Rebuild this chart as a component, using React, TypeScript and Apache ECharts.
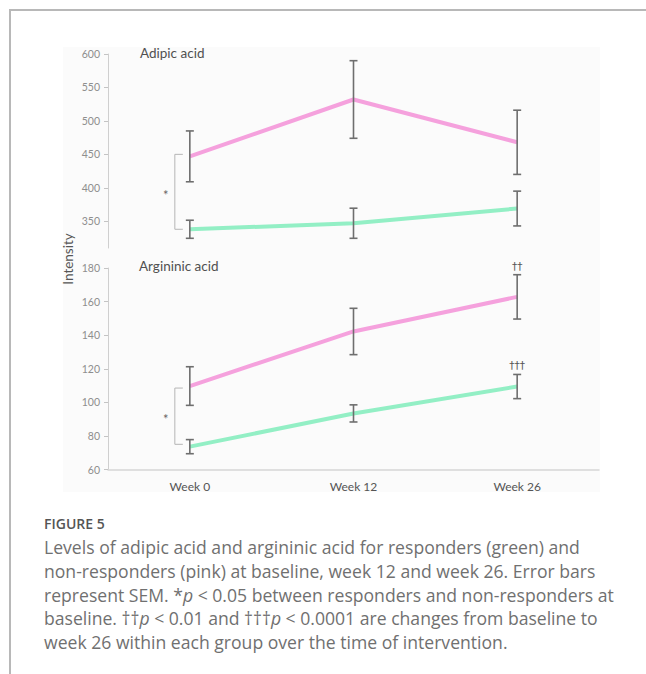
import React, { useEffect, useRef } from 'react';
import * as echarts from 'echarts';

const categories = ['Week 0', 'Week 12', 'Week 26'];
const adipicNonResponders = [447, 532, 468];
const adipicNonRespondersSem = [38, 58, 48];
const adipicResponders = [338, 347, 369];
const adipicRespondersSem = [13.5, 22.5, 26];
const argininicNonResponders = [109.7, 142.2, 162.8];
const argininicNonRespondersSem = [11.5, 13.8, 13.2];
const argininicResponders = [73.6, 93.4, 109.4];
const argininicRespondersSem = [4.2, 5.1, 7.2];
const adipicTicks = [350, 400, 450, 500, 550, 600];
const adipicBaselineBracket = [450, 338];
const argininicBaselineBracket = [108.5, 75];
const argininicDaggerLabels = ['\u2020\u2020', '\u2020\u2020\u2020'];

const PINK = '#f5a1dd';
const GREEN = '#93efc5';
const BAR = '#6e6e6e';
const PLOT_FONT = 'Lato';
const CAP_FONT = 'Open Sans';

const errData = (m: number[], s: number[]) => m.map((v, i) => [i, v - s[i], v + s[i]]);

const errorBarRender = (params: any, api: any) => {
  const x = api.value(0);
  const lo = api.coord([x, api.value(1)]);
  const hi = api.coord([x, api.value(2)]);
  const w = 4;
  const st = { stroke: BAR, lineWidth: 1.6 };
  return {
    type: 'group',
    children: [
      { type: 'line', shape: { x1: lo[0], y1: lo[1], x2: hi[0], y2: hi[1] }, style: st },
      { type: 'line', shape: { x1: hi[0] - w, y1: hi[1], x2: hi[0] + w, y2: hi[1] }, style: st },
      { type: 'line', shape: { x1: lo[0] - w, y1: lo[1], x2: lo[0] + w, y2: lo[1] }, style: st },
    ],
  };
};

const bracketRender = (params: any, api: any) => {
  const x = api.value(0);
  const a = api.coord([x, api.value(1)]);
  const b = api.coord([x, api.value(2)]);
  const bx = a[0] - 15;
  return {
    type: 'group',
    children: [
      {
        type: 'polyline',
        shape: { points: [[bx + 8, a[1]], [bx, a[1]], [bx, b[1]], [bx + 8, b[1]]] },
        style: { stroke: '#b5b5b5', lineWidth: 1, fill: 'none' },
      },
      {
        type: 'text',
        x: bx - 9,
        y: (a[1] + b[1]) / 2 + 3,
        style: { text: '*', fill: '#666', fontSize: 13, fontFamily: PLOT_FONT, align: 'center', verticalAlign: 'middle' },
      },
    ],
  };
};

const daggerRender = (params: any, api: any) => {
  const x = api.value(0);
  const p = api.coord([x, api.value(1)]);
  return {
    type: 'group',
    children: [
      {
        type: 'text',
        x: p[0],
        y: p[1] - 9,
        style: {
          text: argininicDaggerLabels[params.dataIndex],
          fill: '#555555',
          fontSize: 10.5,
          fontFamily: 'DejaVu Sans',
          align: 'center',
          verticalAlign: 'middle',
        },
      },
    ],
  };
};

const yAxisBase = {
  type: 'value',
  axisLine: { show: true, lineStyle: { color: '#cfcfcf', width: 1 } },
  axisTick: { show: true, length: 4, lineStyle: { color: '#c4c4c4' } },
  axisLabel: { color: '#8e8e8e', fontSize: 10.5, fontFamily: PLOT_FONT, margin: 8 },
  splitLine: { show: false },
};

const captionLines = [
  'Levels of adipic acid and argininic acid for responders (green) and',
  'non-responders (pink) at baseline, week 12 and week 26. Error bars',
  'represent SEM. *{i|p} < 0.05 between responders and non-responders at',
  'baseline. \u2020\u2020{i|p} < 0.01 and \u2020\u2020\u2020{i|p} < 0.0001 are changes from baseline to',
  'week 26 within each group over the time of intervention.',
];

export default function App() {
  const ref = useRef<HTMLDivElement>(null);
  useEffect(() => {
    const chart = echarts.init(ref.current!, null, { renderer: 'svg' });
    const capStyle = { fontSize: 17.6, fontFamily: CAP_FONT, fill: '#707070' };
    const option: any = {
      animation: false,
      backgroundColor: '#ffffff',
      grid: [
        { left: 108, right: 47, top: 54, height: 194 },
        { left: 108, right: 47, top: 268, height: 201.5 },
      ],
      xAxis: [
        {
          type: 'category',
          gridIndex: 0,
          data: categories,
          boundaryGap: true,
          show: false,
        },
        {
          type: 'category',
          gridIndex: 1,
          data: categories,
          boundaryGap: true,
          axisLine: { show: true, lineStyle: { color: '#d6d6d6', width: 1.5 } },
          axisTick: { show: false },
          axisLabel: { color: '#555', fontSize: 12, fontFamily: PLOT_FONT, margin: 11 },
        },
      ],
      yAxis: [
        {
          ...yAxisBase,
          gridIndex: 0,
          min: 310,
          max: 600,
          axisLabel: { ...yAxisBase.axisLabel, customValues: adipicTicks },
          axisTick: { ...yAxisBase.axisTick, customValues: adipicTicks },
        },
        { ...yAxisBase, gridIndex: 1, min: 60, max: 180, interval: 20 },
      ],
      series: [
        {
          type: 'line', xAxisIndex: 0, yAxisIndex: 0, data: adipicNonResponders,
          symbol: 'none', lineStyle: { color: PINK, width: 4 }, z: 2,
        },
        {
          type: 'line', xAxisIndex: 0, yAxisIndex: 0, data: adipicResponders,
          symbol: 'none', lineStyle: { color: GREEN, width: 4 }, z: 2,
        },
        {
          type: 'line', xAxisIndex: 1, yAxisIndex: 1, data: argininicNonResponders,
          symbol: 'none', lineStyle: { color: PINK, width: 4 }, z: 2,
        },
        {
          type: 'line', xAxisIndex: 1, yAxisIndex: 1, data: argininicResponders,
          symbol: 'none', lineStyle: { color: GREEN, width: 4 }, z: 2,
        },
        {
          type: 'custom', xAxisIndex: 0, yAxisIndex: 0, renderItem: errorBarRender, z: 3,
          encode: { x: 0, y: [1, 2] },
          data: [...errData(adipicNonResponders, adipicNonRespondersSem), ...errData(adipicResponders, adipicRespondersSem)],
        },
        {
          type: 'custom', xAxisIndex: 1, yAxisIndex: 1, renderItem: errorBarRender, z: 3,
          encode: { x: 0, y: [1, 2] },
          data: [...errData(argininicNonResponders, argininicNonRespondersSem), ...errData(argininicResponders, argininicRespondersSem)],
        },
        {
          type: 'custom', xAxisIndex: 0, yAxisIndex: 0, renderItem: bracketRender, z: 3,
          encode: { x: 0, y: [1, 2] },
          data: [[0, adipicBaselineBracket[0], adipicBaselineBracket[1]]],
        },
        {
          type: 'custom', xAxisIndex: 1, yAxisIndex: 1, renderItem: bracketRender, z: 3,
          encode: { x: 0, y: [1, 2] },
          data: [[0, argininicBaselineBracket[0], argininicBaselineBracket[1]]],
        },
        {
          type: 'custom', xAxisIndex: 1, yAxisIndex: 1, renderItem: daggerRender, z: 3,
          itemStyle: { color: '#555555' },
          encode: { x: 0, y: 1 },
          data: [
            [2, argininicNonResponders[2] + argininicNonRespondersSem[2]],
            [2, argininicResponders[2] + argininicRespondersSem[2]],
          ],
        },
      ],
      graphic: [
        {
          type: 'rect', z: -10, silent: true,
          shape: { x: 63, y: 47, width: 537, height: 445 },
          style: { fill: '#fbfbfb' },
        },
        {
          type: 'polyline', z: 10, silent: true,
          shape: { points: [[10, 674], [10, 10], [646, 10]] },
          style: { stroke: '#b8b8b8', lineWidth: 2, fill: 'none' },
        },
        {
          type: 'text', x: 140, y: 53,
          style: { text: 'Adipic acid', fontSize: 13.5, fontFamily: PLOT_FONT, fill: '#505050', verticalAlign: 'middle' },
        },
        {
          type: 'text', x: 139, y: 266,
          style: { text: 'Argininic acid', fontSize: 13.5, fontFamily: PLOT_FONT, fill: '#505050', verticalAlign: 'middle' },
        },
        {
          type: 'text', x: 68, y: 259, rotation: Math.PI / 2,
          style: { text: 'Intensity', fontSize: 13.5, fontFamily: PLOT_FONT, fill: '#555', align: 'center', verticalAlign: 'middle' },
        },
        {
          type: 'text', x: 44, y: 523,
          style: { text: 'FIGURE 5', fontSize: 14, fontWeight: 600, fontFamily: CAP_FONT, fill: '#555', verticalAlign: 'middle' },
        },
        ...captionLines.map((line, i) => ({
          type: 'text',
          x: 44,
          y: 547 + i * 23.8,
          style: {
            ...capStyle,
            text: line,
            verticalAlign: 'middle',
            rich: { i: { ...capStyle, fontStyle: 'italic' } },
          },
        })),
      ],
    };
    chart.setOption(option);
    return () => chart.dispose();
  }, []);
  return (
    <div
      ref={ref}
      style={{ position: 'fixed', left: 0, top: 0, width: 646, height: 674, background: '#fff' }}
    />
  );
}
